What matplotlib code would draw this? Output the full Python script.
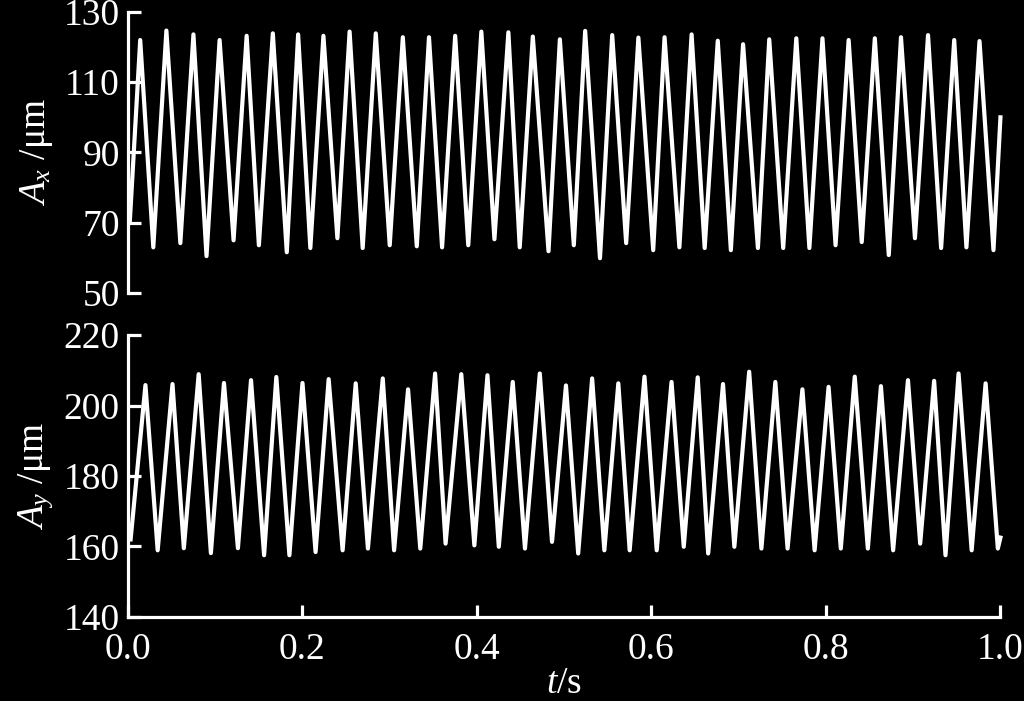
import numpy as np
import matplotlib
matplotlib.use("Agg")
import matplotlib.pyplot as plt

plt.rcParams['font.family'] = ['Liberation Serif', 'DejaVu Serif']
plt.rcParams['mathtext.fontset'] = 'custom'
plt.rcParams['mathtext.rm'] = 'Liberation Serif'
plt.rcParams['mathtext.it'] = 'Liberation Serif:italic'

# ---- data (extrema of the two traces) ----
ax_peak_t = [0.014, 0.044, 0.075, 0.105, 0.136, 0.166, 0.195, 0.224, 0.254, 0.284, 0.315,
             0.345, 0.375, 0.405, 0.436, 0.464, 0.495, 0.524, 0.555, 0.585, 0.615, 0.646,
             0.676, 0.705, 0.735, 0.766, 0.796, 0.826, 0.856, 0.886, 0.917, 0.947, 0.976]
ax_peak_v = [122.0, 124.7, 123.6, 122.0, 123.2, 123.9, 123.6, 123.2,
             124.4, 123.9, 122.8, 122.8, 123.2, 124.4, 124.2, 123.0, 122.2, 124.6, 123.4, 122.7, 122.8,
             123.6, 121.8, 120.8, 122.2, 122.5, 122.5, 122.0, 122.5, 122.8, 123.4, 122.0, 121.7]
ax_trough_t = [0.029, 0.060, 0.090, 0.121, 0.150, 0.182, 0.209, 0.240, 0.269, 0.300, 0.331,
               0.360, 0.390, 0.420, 0.449, 0.482, 0.511, 0.541, 0.571, 0.602, 0.632, 0.661,
               0.691, 0.722, 0.751, 0.781, 0.811, 0.841, 0.872, 0.902, 0.932, 0.961, 0.992]
ax_trough_v = [63.0, 64.2, 60.5, 65.0, 63.6, 61.6, 62.8, 65.6,
               62.8, 63.6, 63.3, 63.0, 63.6, 65.3, 63.0, 61.9, 63.6, 59.9, 64.2, 62.2, 63.0,
               62.8, 62.2, 62.8, 62.8, 62.8, 63.6, 64.5, 60.8, 65.6, 62.8, 63.0, 62.2]
ax_start = (0.002, 70.0)
ax_end = (1.0, 100.0)

ay_peak_t = [0.020, 0.051, 0.081, 0.110, 0.141, 0.170, 0.200, 0.230, 0.261, 0.292, 0.321,
             0.352, 0.382, 0.412, 0.441, 0.472, 0.502, 0.532, 0.562, 0.592, 0.623, 0.653,
             0.682, 0.712, 0.742, 0.773, 0.803, 0.833, 0.863, 0.894, 0.924, 0.952, 0.983]
ay_peak_v = [205.8, 206.1, 208.9, 206.4, 207.2, 208.1, 206.4, 207.5,
             206.3, 207.7, 204.6, 209.1, 208.9, 208.6, 206.7, 209.1, 205.7, 207.7, 206.3, 208.2, 206.7,
             208.0, 206.1, 209.6, 206.7, 204.6, 205.3, 208.2, 205.5, 207.2, 207.0, 209.1, 206.3]
ay_trough_t = [0.034, 0.064, 0.095, 0.126, 0.156, 0.185, 0.215, 0.246, 0.275, 0.305, 0.335,
               0.364, 0.397, 0.425, 0.455, 0.486, 0.516, 0.546, 0.575, 0.606, 0.637, 0.665,
               0.695, 0.726, 0.756, 0.787, 0.817, 0.848, 0.877, 0.908, 0.937, 0.967, 0.997]
ay_trough_v = [158.9, 159.5, 158.1, 159.5, 157.5, 157.5, 158.4, 158.9,
               159.4, 158.9, 159.4, 160.8, 160.3, 159.9, 159.4, 161.3, 158.0, 158.9, 158.9, 158.9, 159.9,
               158.0, 159.9, 159.4, 159.4, 158.9, 159.4, 159.4, 158.9, 160.8, 157.5, 158.9, 159.4]
ay_start = (0.003, 162.0)
ay_end = (1.0, 162.5)

ax_yticks = [50, 70, 90, 110, 130]
ay_yticks = [140, 160, 180, 200, 220]
xticks = [0.0, 0.2, 0.4, 0.6, 0.8, 1.0]


def trace(pt, pv, tt, tv, start, end):
    n = len(pt)
    t = np.empty(2 * n)
    v = np.empty(2 * n)
    t[0::2], v[0::2] = pt, pv
    t[1::2], v[1::2] = tt, tv
    t = np.concatenate([[start[0]], t, [end[0]]])
    v = np.concatenate([[start[1]], v, [end[1]]])
    return t, v


fig = plt.figure(figsize=(10.24, 7.01), dpi=100, facecolor='black')
ax1 = fig.add_axes([0.125, 0.582, 0.852, 0.401])
ax2 = fig.add_axes([0.125, 0.120, 0.852, 0.402])

fs = 27
lw_sp = 2.3
for ax in (ax1, ax2):
    ax.set_facecolor('black')
    for s in ('top', 'right'):
        ax.spines[s].set_visible(False)
    for s in ('left', 'bottom'):
        ax.spines[s].set_color('white')
        ax.spines[s].set_linewidth(lw_sp)
    ax.tick_params(colors='white', direction='in', length=9, width=lw_sp,
                   labelsize=fs, pad=6)
    ax.set_xlim(0, 1.0)

t1, v1 = trace(ax_peak_t, ax_peak_v, ax_trough_t, ax_trough_v, ax_start, ax_end)
ax1.plot(t1, v1, color='white', lw=3.0, solid_joinstyle='round', clip_on=False)
ax1.set_ylim(50, 130)
ax1.set_yticks(ax_yticks)
ax1.spines['bottom'].set_visible(False)
ax1.tick_params(axis='x', bottom=False, labelbottom=False)
ax1.set_ylabel(r'$A_x$ /μm', color='white', fontsize=fs, labelpad=6)

t2, v2 = trace(ay_peak_t, ay_peak_v, ay_trough_t, ay_trough_v, ay_start, ay_end)
ax2.plot(t2, v2, color='white', lw=3.0, solid_joinstyle='round', clip_on=False)
ax2.set_ylim(140, 220)
ax2.set_yticks(ay_yticks)
ax2.set_xticks(xticks)
ax2.set_xticklabels([f'{x:.1f}' for x in xticks])
ax2.tick_params(axis='x', pad=11)
ax2.set_ylabel(r'$A_y$ /μm', color='white', fontsize=fs, labelpad=6)
ax2.set_xlabel(r'$t$/s', color='white', fontsize=fs, labelpad=0)

fig.savefig('out.png', dpi=100, facecolor='black')
